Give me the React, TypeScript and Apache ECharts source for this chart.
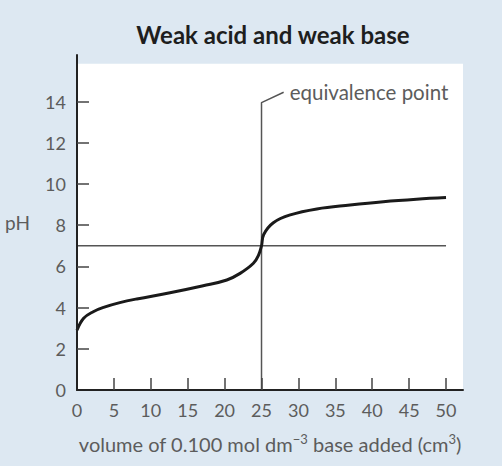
import React, { useEffect, useRef } from "react";
import * as echarts from "echarts";

const volume = [0, 0.9, 2.2, 3.6, 5.8, 8.1, 12.6, 17.1, 20.3, 22.1, 23.9, 24.6, 25, 25.3, 26.6, 28.9, 32.5, 37, 41.5, 46, 50];
const pH = [2.9, 3.48, 3.8, 4.01, 4.24, 4.42, 4.72, 5.06, 5.34, 5.66, 6.15, 6.55, 7.0, 7.55, 8.12, 8.5, 8.79, 8.98, 9.14, 9.26, 9.34];
const xTickValues = [5, 10, 15, 20, 25, 30, 35, 40, 45, 50];
const xLabelValues = [0, 5, 10, 15, 20, 25, 30, 35, 40, 45, 50];
const yTickValues = [2, 4, 6, 8, 10, 12, 14];
const yLabelValues = [0, 2, 4, 6, 8, 10, 12, 14];
const neutralLine = [[0, 7], [50, 7]];
const equivalenceLine = [[25, 0], [25, 13.95], [28, 14.45]];
const plotArea = { xMax: 52.3, yMax: 15.83 };

const FONT = "Lato, 'Open Sans', sans-serif";
const GREY = "#5c5c5c";

export default function App() {
  const ref = useRef<HTMLDivElement>(null);
  useEffect(() => {
    if (!ref.current) return;
    const chart = echarts.init(ref.current, null, { renderer: "svg" });
    chart.setOption({
      animation: false,
      backgroundColor: "#dde8f2",
      title: {
        text: "Weak acid and weak base",
        left: 268,
        textAlign: "center",
        top: 17,
        textStyle: { fontFamily: FONT, fontWeight: "bold", fontSize: 24, color: "#1e1e1e" },
      },
      grid: { left: 77, right: 39, top: 55, bottom: 76 },
      xAxis: {
        type: "value",
        min: 0,
        max: 52.3,
        z: 5,
        splitLine: { show: false },
        axisLine: { lineStyle: { color: "#222", width: 2 } },
        axisTick: { inside: true, length: 12, customValues: xTickValues, lineStyle: { color: "#444", width: 1.5 } },
        axisLabel: { customValues: xLabelValues, margin: 11, fontFamily: FONT, fontSize: 18, color: GREY },
        name: "volume of 0.100 mol dm{sup|−3} base added (cm{sup|3})",
        nameLocation: "middle",
        nameGap: 42,
        nameTextStyle: {
          fontFamily: FONT,
          fontSize: 20,
          color: GREY,
          rich: {
            sup: { fontFamily: FONT, fontSize: 13, color: GREY, verticalAlign: "top", padding: [0, 0, 10, 0] },
          },
        },
      },
      yAxis: {
        type: "value",
        min: 0,
        max: 16.26,
        z: 5,
        splitLine: { show: false },
        axisLine: { show: true, lineStyle: { color: "#222", width: 2 } },
        axisTick: { show: true, inside: true, length: 12, customValues: yTickValues, lineStyle: { color: "#444", width: 1.5 } },
        axisLabel: { customValues: yLabelValues, margin: 11, fontFamily: FONT, fontSize: 18, color: GREY },
        name: "pH",
        nameLocation: "middle",
        nameRotate: 0,
        nameGap: 47,
        nameTextStyle: { fontFamily: FONT, fontSize: 19, color: GREY },
      },
      series: [
        {
          type: "line",
          z: 1,
          data: [],
          silent: true,
          markArea: {
            silent: true,
            itemStyle: { color: "#ffffff", opacity: 1 },
            label: { show: false },
            data: [[{ coord: [0, 0] }, { coord: [plotArea.xMax, plotArea.yMax] }]],
          },
        },
        {
          type: "line",
          z: 2,
          data: neutralLine,
          showSymbol: false,
          silent: true,
          lineStyle: { color: "#555", width: 1.5 },
        },
        {
          type: "line",
          z: 2,
          data: equivalenceLine,
          showSymbol: false,
          silent: true,
          lineStyle: { color: "#555", width: 1.5 },
          endLabel: {
            show: true,
            formatter: "equivalence point",
            distance: 6,
            fontFamily: FONT,
            fontSize: 20.5,
            color: GREY,
          },
        },
        {
          type: "line",
          z: 3,
          data: volume.map((v, i) => [v, pH[i]]),
          showSymbol: false,
          smooth: 0.4,
          silent: true,
          lineStyle: { color: "#1a1a1a", width: 3 },
        },
      ],
    });
    return () => chart.dispose();
  }, []);
  return <div ref={ref} style={{ position: "fixed", left: 0, top: 0, width: 502, height: 466 }} />;
}
